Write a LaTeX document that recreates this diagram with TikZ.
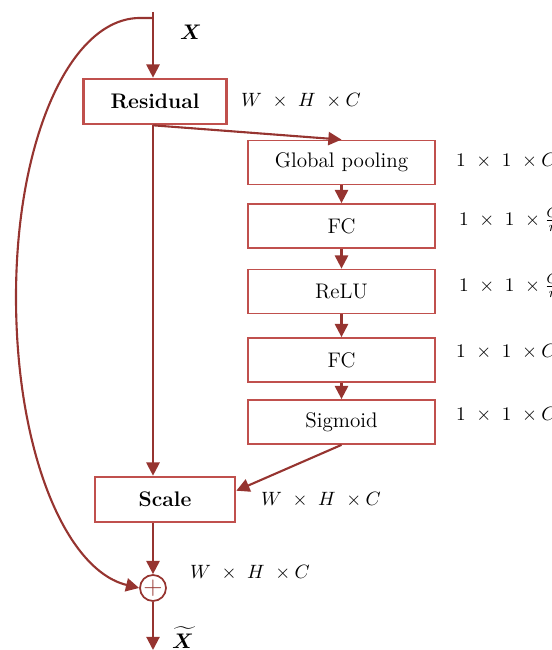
\documentclass[tikz,border=0pt]{standalone}
\usepackage{amsmath,bm}
\usetikzlibrary{arrows.meta}
\definecolor{boxred}{RGB}{192,80,77}
\definecolor{arrowred}{RGB}{150,52,48}
\tikzset{
    bigbox/.style={draw=boxred, line width=1.5pt, minimum width=2.85cm, minimum height=0.9cm, font=\large\bfseries},
    smallbox/.style={draw=boxred, line width=1pt, minimum width=3.74cm, minimum height=0.88cm, font=\large},
    dimlabel/.style={anchor=west, font=\fontsize{11}{13}\selectfont},
    link/.style={->, draw=arrowred, line width=1.2pt},
}
\begin{document}
\begin{tikzpicture}[auto, >={Triangle[width=7.5pt,length=7.5pt]}]
            \clip (0,0) rectangle (11.04,13);
            \begin{scope}[node distance=0.5cm]
                \coordinate (in) at (3.06,12.76);
                \coordinate (bend) at (3.06,12.64);
                \coordinate (out) at (3.06,0);
                \node[name=res, bigbox] at (3.1,10.97) (res) {Residual};
                \node[name=scale, bigbox, minimum width=2.8cm] at (3.3,3.01) (scale) {Scale};
                \node[name=gp, smallbox] at (6.83,9.75) (gp) {Global pooling};
                \node[name=fc1, smallbox] at (6.83,8.48) (fc1) {FC};
                \node[name=relu, smallbox] at (6.83,7.17) (relu) {ReLU};
                \node[name=fc2, smallbox] at (6.83,5.8) (fc2) {FC};
                \node[name=sig, smallbox] at (6.83,4.56) (sig) {Sigmoid};
                \node[name=plus, circle, draw=arrowred, line width=1pt, minimum size=0.52cm, inner sep=0pt, text=arrowred] at (3.06,1.24) (plus) {\Large$+$};
                \draw[link] (in) -- (res.north -| in);
                \draw[link] (res.south -| in) -- (scale.north -| in);
                \draw[link] (res.south -| in) -- (gp.north);
                \draw[link] (gp) -- (fc1);
                \draw[link] (fc1) -- (relu);
                \draw[link] (relu) -- (fc2);
                \draw[link] (fc2) -- (sig);
                \draw[link] (sig.south) -- ([yshift=5pt]scale.east);
                \draw[link] (scale.south -| in) -- (plus.north);
                \draw[link] (plus.south) -- (out);
                \draw[link] (bend) -- (2.8,12.64) .. controls (1.4,12.64) and (0.32,10.2) .. (0.32,7.06)
                    .. controls (0.32,4.0) and (1.3,1.6) .. (plus.west);
                \node[name=x, font=\large] at (3.82,12.36) (x) {$\bm{X}$};
                \node[name=xt, font=\large] at (3.66,0.25) (xt) {$\bm{\widetilde{X}}$};
                \node[name=d1, dimlabel] at (4.7,10.99) (d1) {$W\ \times\ H\ \times C$};
                \node[name=d2, dimlabel] at (5.1,3.0) (d2) {$W\ \times\ H\ \times C$};
                \node[name=d3, dimlabel] at (3.68,1.54) (d3) {$W\ \times\ H\ \times C$};
                \node[name=t1, dimlabel] at (9.0,9.78) (t1) {$1\ \times\ 1\ \times C$};
                \node[name=t2, dimlabel] at (9.06,8.6) (t2) {$1\ \times\ 1\ \times \frac{C}{r}$};
                \node[name=t3, dimlabel] at (9.06,7.28) (t3) {$1\ \times\ 1\ \times \frac{C}{r}$};
                \node[name=t4, dimlabel] at (9.0,5.96) (t4) {$1\ \times\ 1\ \times C$};
                \node[name=t5, dimlabel] at (9.0,4.7) (t5) {$1\ \times\ 1\ \times C$};

            \end{scope}
        \end{tikzpicture}
\end{document}
